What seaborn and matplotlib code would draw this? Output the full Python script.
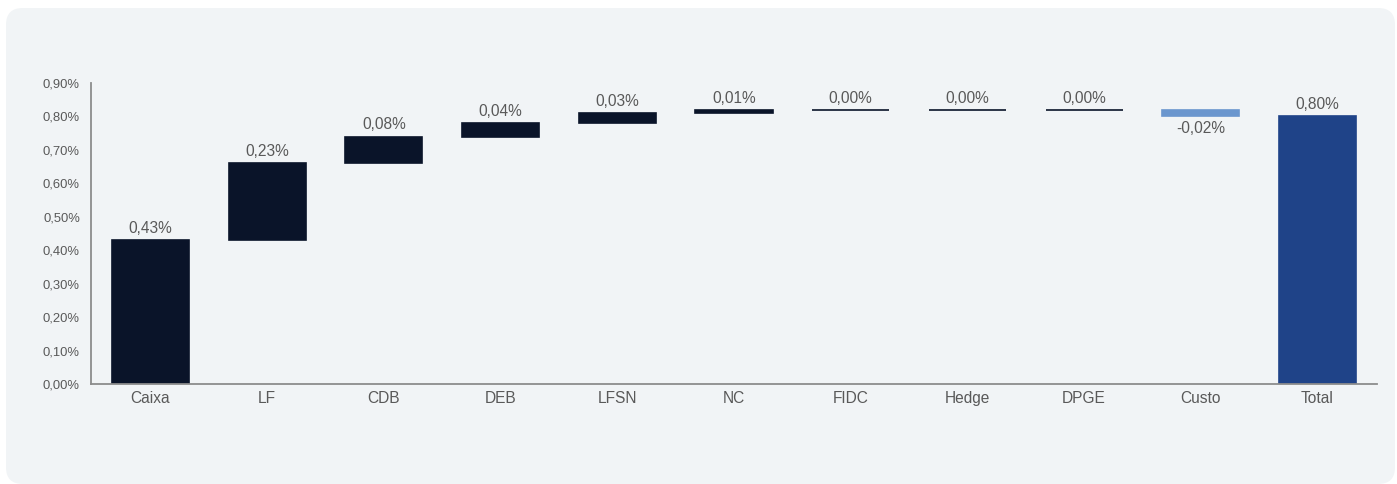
import matplotlib
matplotlib.use("Agg")
import matplotlib.pyplot as plt
from matplotlib.patches import FancyBboxPatch
from matplotlib.ticker import FuncFormatter
import numpy as np
import pandas as pd
import seaborn as sns

# Contribution of each asset class to the period return (in %)
categories = ["Caixa", "LF", "CDB", "DEB", "LFSN", "NC", "FIDC", "Hedge", "DPGE", "Custo", "Total"]
contributions = [0.43, 0.23, 0.08, 0.04, 0.03, 0.01, 0.00, 0.00, 0.00, -0.02]
total_value = 0.80
y_ticks = [0.0, 0.1, 0.2, 0.3, 0.4, 0.5, 0.6, 0.7, 0.8, 0.9]

POS_COLOR = "#0A1429"
NEG_COLOR = "#6A96CE"
TOTAL_COLOR = "#1F4388"
TEXT_COLOR = "#595959"
AXIS_COLOR = "#8C8C8C"
PANEL_COLOR = "#F1F4F6"

sns.set_theme(style="white")
plt.rcParams["font.family"] = ["Liberation Sans", "DejaVu Sans"]

# Waterfall geometry: each step floats on the running total
running = np.cumsum([0.0] + contributions)
bottoms = list(running[:-1]) + [0.0]
heights = contributions + [total_value]
colors = [POS_COLOR if v >= 0 else NEG_COLOR for v in contributions] + [TOTAL_COLOR]

df = pd.DataFrame({"categoria": categories, "valor": heights})

fig = plt.figure(figsize=(13.97, 4.84), dpi=100)
fig.patch.set_facecolor("white")
panel = FancyBboxPatch((6 / 1397, 0.0), (1389 / 1397), (476 / 484),
                       boxstyle="round,pad=0,rounding_size=0.012",
                       transform=fig.transFigure, facecolor=PANEL_COLOR,
                       edgecolor="none", zorder=-5, mutation_aspect=1397 / 484)
fig.patches.append(panel)

ax = fig.add_axes([91 / 1397, (484 - 384) / 484, (1377 - 91) / 1397, (384 - 83) / 484])
ax.set_facecolor("none")
ax.set_zorder(2)

sns.barplot(data=df, x="categoria", y="valor", order=categories, color=POS_COLOR,
            width=0.66, bottom=bottoms, ax=ax, errorbar=None, saturation=1,
            linewidth=1.2, edgecolor=POS_COLOR)

for patch, c in zip(ax.patches, colors):
    patch.set_facecolor(c)
    patch.set_edgecolor(c)

def pct(v):
    return f"{v:.2f}".replace(".", ",") + "%"

for i, (b, h) in enumerate(zip(bottoms, heights)):
    if h >= 0:
        ax.annotate(pct(h), (i, b + h), xytext=(0, 3), textcoords="offset points",
                    ha="center", va="bottom", fontsize=11.2, color=TEXT_COLOR)
    else:
        ax.annotate(pct(h), (i, b + h), xytext=(0, -3), textcoords="offset points",
                    ha="center", va="top", fontsize=11.2, color=TEXT_COLOR)

ax.set_xlim(-0.51, 10.51)
ax.set_ylim(0, 0.9)
ax.set_yticks(y_ticks)
ax.yaxis.set_major_formatter(FuncFormatter(lambda v, _: pct(v)))
ax.set_xlabel("")
ax.set_ylabel("")
ax.tick_params(axis="y", length=0, pad=8, labelsize=9.4, labelcolor=TEXT_COLOR)
ax.tick_params(axis="x", length=0, pad=5, labelsize=11.2, labelcolor=TEXT_COLOR)

sns.despine(ax=ax, top=True, right=True)
for side in ("left", "bottom"):
    ax.spines[side].set_color(AXIS_COLOR)
    ax.spines[side].set_linewidth(1.3)

fig.savefig("out.png", dpi=100, facecolor=fig.get_facecolor())
